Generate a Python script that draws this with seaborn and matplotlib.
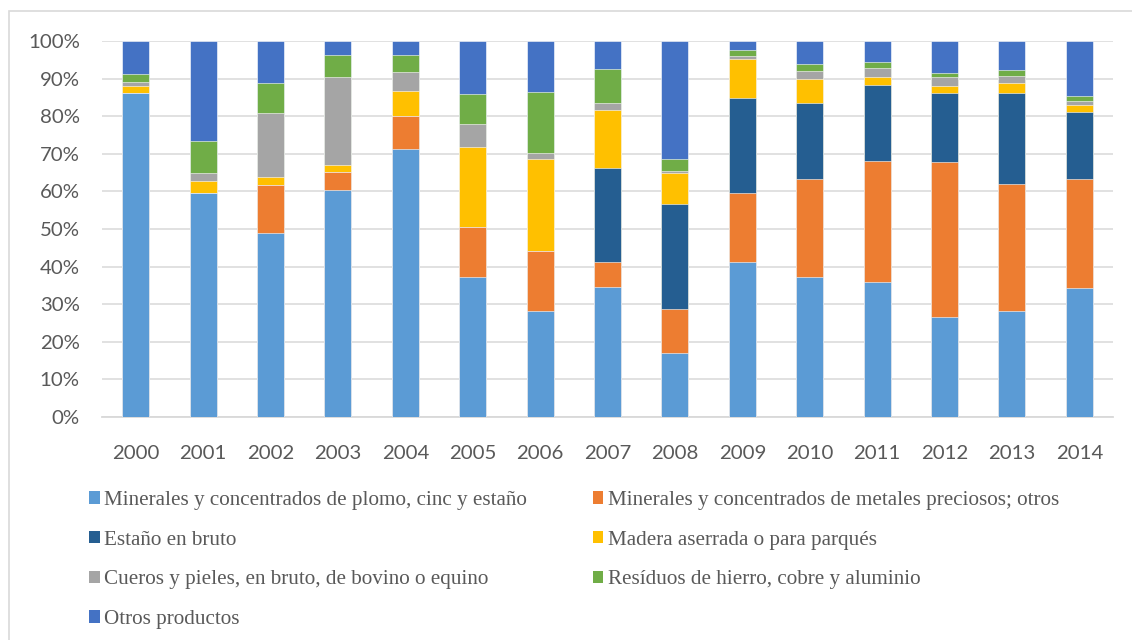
import numpy as np
import pandas as pd
import matplotlib
matplotlib.use("Agg")
import matplotlib.pyplot as plt
from matplotlib.patches import Patch, Rectangle
from matplotlib.ticker import FuncFormatter
import seaborn as sns

years = [str(y) for y in range(2000, 2015)]

# shares per product (%)
minerales_plomo = [86.2, 59.6, 49.0, 60.4, 71.4, 37.2, 28.1, 34.5, 17.0, 41.1, 37.3, 35.8, 26.5, 28.3, 34.2]
minerales_preciosos = [0.0, 0.0, 12.8, 4.8, 8.7, 13.4, 16.1, 6.7, 11.8, 18.6, 26.1, 32.4, 41.3, 33.7, 29.0]
estano_bruto = [0.0, 0.0, 0.0, 0.0, 0.0, 0.0, 0.0, 25.1, 27.9, 25.2, 20.2, 20.1, 18.5, 24.2, 18.0]
madera = [1.8, 3.1, 2.0, 1.8, 6.5, 21.2, 24.4, 15.4, 8.1, 10.2, 6.2, 2.1, 1.7, 2.6, 1.8]
cueros = [1.1, 2.3, 17.0, 23.4, 5.1, 6.0, 1.6, 1.8, 0.6, 0.8, 2.3, 2.5, 2.4, 2.0, 1.1]
residuos = [2.1, 8.5, 8.0, 5.8, 4.7, 8.1, 16.2, 9.1, 3.2, 1.8, 1.9, 1.5, 1.2, 1.5, 1.2]
otros = [8.8, 26.5, 11.2, 3.8, 3.6, 14.1, 13.6, 7.4, 31.4, 2.3, 6.0, 5.6, 8.4, 7.7, 14.7]

labels = [
    "Minerales y concentrados de plomo, cinc y estaño",
    "Minerales y concentrados de metales preciosos; otros",
    "Estaño en bruto",
    "Madera aserrada o para parqués",
    "Cueros y pieles, en bruto, de bovino o equino",
    "Resíduos de hierro, cobre y aluminio",
    "Otros productos",
]
colors = ["#5B9BD5", "#ED7D31", "#255E91", "#FFC000", "#A5A5A5", "#70AD47", "#4472C4"]

df = pd.DataFrame(
    [minerales_plomo, minerales_preciosos, estano_bruto, madera, cueros, residuos, otros],
    index=labels, columns=years,
).T
df = df.div(df.sum(axis=1), axis=0) * 100
cum = df.cumsum(axis=1)

sns.set_style("white")
plt.rcParams["font.family"] = ["Lato", "DejaVu Sans"]

fig = plt.figure(figsize=(11.32, 6.4), dpi=100)
ax = fig.add_axes([102 / 1132, 1 - 417 / 640, 1011 / 1132, 376 / 640])

# stacked 100% bars: draw cumulative totals from the top series down
for lab, col in reversed(list(zip(labels, colors))):
    sns.barplot(x=years, y=cum[lab].values, color=col, width=0.4,
                edgecolor="white", linewidth=0.4, saturation=1, ax=ax, zorder=3)

ax.set_ylim(0, 100)
ax.set_xlim(-0.5, 14.5)
ax.set_yticks(np.arange(0, 101, 10))
ax.yaxis.set_major_formatter(FuncFormatter(lambda v, p: f"{v:.0f}%"))
ax.grid(axis="y", color="#D9D9D9", linewidth=1.1, zorder=0)
ax.grid(axis="x", visible=False)
for s in ["top", "right", "left"]:
    ax.spines[s].set_visible(False)
ax.spines["bottom"].set_color("#D9D9D9")
ax.spines["bottom"].set_linewidth(1.3)
ax.tick_params(axis="both", length=0, labelsize=14.7, labelcolor="#595959")
ax.tick_params(axis="y", pad=16)
ax.tick_params(axis="x", pad=20)
ax.set_xlabel("")
ax.set_ylabel("")

# legend filled row by row, two columns
handles = [Patch(facecolor=c, edgecolor="none", label=l) for l, c in zip(labels, colors)]
order = [0, 2, 4, 6, 1, 3, 5]
fig.legend([handles[i] for i in order], [labels[i] for i in order],
           ncol=2, loc="upper left", bbox_to_anchor=(89 / 1132, 1 - 491 / 640),
           frameon=False, borderpad=0, borderaxespad=0,
           handlelength=0.52, handleheight=0.52, handletextpad=0.2,
           columnspacing=3.1, labelspacing=0.98,
           prop={"family": "Liberation Serif", "size": 15.2}, labelcolor="#595959")

fig.add_artist(Rectangle((9 / 1132, -0.1), 1.2, 1.1 - 11 / 640, transform=fig.transFigure,
                         fill=False, edgecolor="#D9D9D9", linewidth=1.2, clip_on=False))

fig.savefig("out.png", dpi=100)
